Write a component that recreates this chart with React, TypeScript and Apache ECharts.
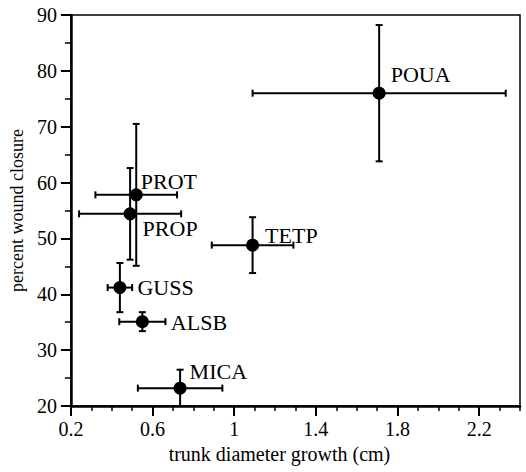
import React, { useEffect, useRef } from "react";
import * as echarts from "echarts";

const species = ["POUA", "PROT", "PROP", "TETP", "GUSS", "ALSB", "MICA"];
const growth = [1.71, 0.52, 0.49, 1.09, 0.44, 0.55, 0.735];
const growthErr = [0.62, 0.2, 0.25, 0.2, 0.06, 0.113, 0.207];
const closure = [76.0, 57.8, 54.4, 48.8, 41.2, 35.1, 23.2];
const closureErr = [12.2, 12.7, 8.2, 5.0, 4.4, 1.7, 3.3];
const xMajorTicks = [0.2, 0.6, 1, 1.4, 1.8, 2.2];
const labelOffsets: number[][] = [
  [0, -19],
  [-7, -13],
  [1, 15],
  [1, -10],
  [6, 0],
  [17, 1],
  [-2, -17],
];

const FONT = "Liberation Serif";

export default function App() {
  const ref = useRef<HTMLDivElement>(null);
  useEffect(() => {
    if (!ref.current) return;
    const chart = echarts.init(ref.current, null, { renderer: "svg" });
    const errData = species.map((s, i) => [growth[i], closure[i], growthErr[i], closureErr[i]]);
    const pts = species.map((s, i) => ({
      name: s,
      value: [growth[i], closure[i]],
      label: { offset: labelOffsets[i] },
    }));
    const cap = 3.5;
    chart.setOption({
      animation: false,
      backgroundColor: "#fff",
      grid: {
        left: 70,
        right: 6,
        top: 15,
        bottom: 66,
        show: true,
        borderColor: "#000",
        borderWidth: 1.5,
        backgroundColor: "transparent",
      },
      xAxis: [
        {
          type: "value",
          min: 0.2,
          max: 2.4,
          position: "bottom",
          name: "trunk diameter growth (cm)",
          nameLocation: "middle",
          nameGap: 31,
          nameTextStyle: { fontFamily: FONT, fontSize: 20, color: "#000", padding: [0, 32, 0, 0] },
          axisLine: { lineStyle: { color: "#000", width: 2.5 } },
          axisTick: { show: true, inside: false, length: 10, customValues: xMajorTicks, lineStyle: { color: "#000", width: 2 } },
          axisLabel: { customValues: xMajorTicks, margin: 13, fontFamily: FONT, fontSize: 20, color: "#000" },
          splitLine: { show: false },
        },
        {
          type: "value",
          min: 0.2,
          max: 2.4,
          interval: 0.1,
          position: "bottom",
          axisLine: { show: false },
          axisTick: { show: true, inside: false, length: 5, lineStyle: { color: "#000", width: 1.5 } },
          axisLabel: { show: false },
          splitLine: { show: false },
        },
      ],
      yAxis: {
        type: "value",
        min: 20,
        max: 90,
        interval: 10,
        name: "percent wound closure",
        nameLocation: "middle",
        nameGap: 40,
        nameTextStyle: { fontFamily: FONT, fontSize: 18, color: "#000" },
        axisLine: { show: true, lineStyle: { color: "#000", width: 2.5 } },
        axisTick: { show: true, inside: false, length: 10, lineStyle: { color: "#000", width: 2 } },
        minorTick: { show: true, splitNumber: 2, length: 6, lineStyle: { color: "#000", width: 1.5 } },
        axisLabel: { margin: 14, fontFamily: FONT, fontSize: 20, color: "#000" },
        splitLine: { show: false },
      },
      series: [
        {
          type: "custom",
          xAxisIndex: 0,
          clip: true,
          data: errData,
          renderItem: (params: any, api: any) => {
            const x = api.value(0);
            const y = api.value(1);
            const ex = api.value(2);
            const ey = api.value(3);
            const l = api.coord([x - ex, y]);
            const r = api.coord([x + ex, y]);
            const t = api.coord([x, y + ey]);
            const b = api.coord([x, y - ey]);
            const style = { stroke: "#000", lineWidth: 2 };
            return {
              type: "group",
              children: [
                { type: "line", shape: { x1: l[0], y1: l[1], x2: r[0], y2: r[1] }, style },
                { type: "line", shape: { x1: l[0], y1: l[1] - cap, x2: l[0], y2: l[1] + cap }, style },
                { type: "line", shape: { x1: r[0], y1: r[1] - cap, x2: r[0], y2: r[1] + cap }, style },
                { type: "line", shape: { x1: t[0], y1: t[1], x2: b[0], y2: b[1] }, style },
                { type: "line", shape: { x1: t[0] - cap, y1: t[1], x2: t[0] + cap, y2: t[1] }, style },
                { type: "line", shape: { x1: b[0] - cap, y1: b[1], x2: b[0] + cap, y2: b[1] }, style },
              ],
            };
          },
          z: 2,
        },
        {
          type: "scatter",
          xAxisIndex: 0,
          symbol: "circle",
          symbolSize: 13,
          itemStyle: { color: "#000", opacity: 1 },
          data: pts,
          label: {
            show: true,
            position: "right",
            distance: 5,
            formatter: (p: any) => p.name,
            fontFamily: FONT,
            fontSize: 22,
            color: "#000",
          },
          z: 3,
        },
      ],
    });
    return () => chart.dispose();
  }, []);
  return (
    <div
      ref={ref}
      style={{ position: "fixed", left: 0, top: 0, width: 526, height: 472, background: "#fff" }}
    />
  );
}
